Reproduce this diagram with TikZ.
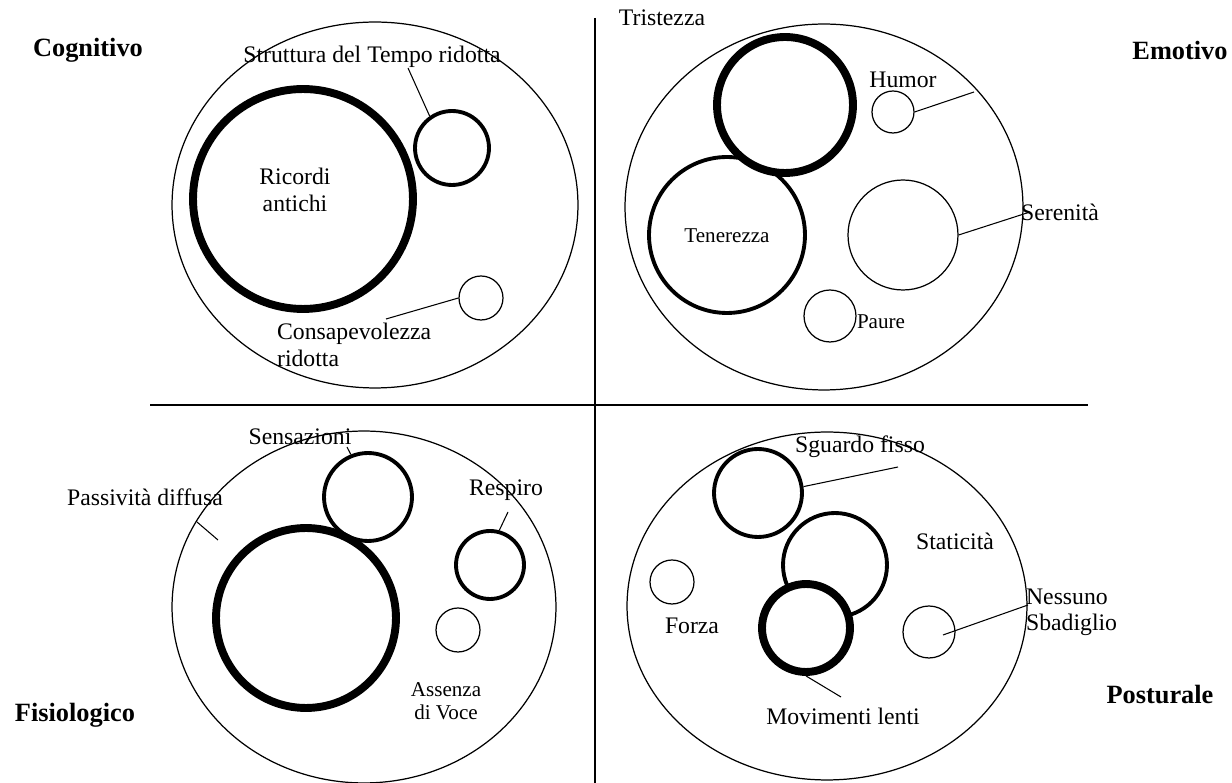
\documentclass[tikz,border=0pt]{standalone}
\usepackage{fontspec}
\setmainfont{Liberation Serif}
\usetikzlibrary{shapes.geometric}
\tikzset{
    areabox/.style={draw, ellipse, line width=0.7pt, inner sep=0pt},
    thinring/.style={draw, circle, fill=white, line width=0.7pt, inner sep=0pt},
    midring/.style={draw, circle, fill=white, line width=2.2pt, inner sep=0pt},
    boldring/.style={draw, circle, fill=white, line width=4.5pt, inner sep=0pt},
    lbl/.style={font=\fontsize{13.5}{15}\selectfont, inner sep=1pt, align=center},
    smalllbl/.style={font=\fontsize{12}{13}\selectfont, inner sep=1pt, align=center},
    arealbl/.style={font=\fontsize{15}{17}\selectfont\bfseries, inner sep=1pt},
    leader/.style={line width=0.6pt}
}

\begin{document}
\begin{tikzpicture}[x=0.02cm, y=-0.02cm]
\useasboundingbox (0,0) rectangle (1232,783);
% quadrants
\coordinate (vtop) at (595,18);
\coordinate (vbot) at (595,783);
\coordinate (hleft) at (150,405);
\coordinate (hright) at (1088,405);
\draw[line width=0.8pt] (vtop) -- (vbot);
\draw[line width=0.8pt] (hleft) -- (hright);

% cognitivo
\node[arealbl] (cogn) at (88,50) {Cognitivo};
\node[areabox, minimum width=8.12cm, minimum height=7.32cm] (cognarea) at (375,205) {};
\node[midring, minimum size=1.48cm] (tempo) at (452,148) {};
\node[boldring, minimum size=4.4cm] (ricordi) at (303,199) {};
\node[thinring, minimum size=0.88cm] (consap) at (481,298) {};
\node[lbl] (tempolbl) at (372,57) {Struttura del Tempo ridotta};
\node[lbl] (ricordilbl) at (295,190) {Ricordi\\antichi};
\node[lbl, align=left, anchor=west] (consaplbl) at (275,345) {Consapevolezza\\ridotta};
\coordinate (tempoend) at (408,68);
\coordinate (consapend) at (386,319);
\draw[leader] (tempo.125) -- (tempoend);
\draw[leader] (consap.west) -- (consapend);

% emotivo
\node[arealbl] (emot) at (1180,50) {Emotivo};
\node[areabox, minimum width=7.96cm, minimum height=7.32cm] (emotarea) at (824,207) {};
\node[midring, minimum size=3.12cm] (tenerezza) at (727,235) {};
\node[boldring, minimum size=2.72cm] (tristezza) at (785,105) {};
\node[thinring, minimum size=0.84cm] (humor) at (893,112) {};
\node[thinring, minimum size=2.2cm] (serenita) at (903,235) {};
\node[thinring, minimum size=1.04cm] (paure) at (830,316) {};
\node[lbl] (tristezzalbl) at (662,18) {Tristezza};
\node[lbl] (humorlbl) at (903,80) {Humor};
\node[lbl] (serenitalbl) at (1060,212) {Serenità};
\node[smalllbl] (tenerezzalbl) at (727,236) {Tenerezza};
\node[smalllbl] (paurelbl) at (881,322) {Paure};
\coordinate (humorend) at (974,92);
\coordinate (serenitaend) at (1030,212);
\draw[leader] (humor.east) -- (humorend);
\draw[leader] (serenita.east) -- (serenitaend);

% fisiologico
\node[arealbl] (fisio) at (75,715) {Fisiologico};
\node[areabox, minimum width=7.68cm, minimum height=7.04cm] (fisioarea) at (364,607) {};
\node[midring, minimum size=1.76cm] (sensazioni) at (368,497) {};
\node[boldring, minimum size=3.6cm] (passivita) at (306,618) {};
\node[midring, minimum size=1.36cm] (respiro) at (490,565) {};
\node[thinring, minimum size=0.88cm] (voce) at (458,630) {};
\node[lbl] (sensazionilbl) at (300,437) {Sensazioni};
\node[lbl] (passivitalbl) at (145,497) {Passività diffusa};
\node[lbl] (respirolbl) at (506,490) {Respiro};
\node[smalllbl] (vocelbl) at (446,701) {Assenza\\di Voce};
\coordinate (sensazioniend) at (347,447);
\coordinate (passivitastart) at (197,522);
\coordinate (passivitaend) at (218,540);
\coordinate (respiroend) at (508,512);
\draw[leader] (sensazioniend) -- (sensazioni.112);
\draw[leader] (passivitastart) -- (passivitaend);
\draw[leader] (respiroend) -- (respiro.75);

% posturale
\node[arealbl] (post) at (1160,695) {Posturale};
\node[areabox, minimum width=8.0cm, minimum height=6.96cm] (postarea) at (827,606) {};
\node[midring, minimum size=2.08cm] (staticita) at (835,565) {};
\node[midring, minimum size=1.76cm] (sguardo) at (758,493) {};
\node[boldring, minimum size=1.76cm] (movimenti) at (806,628) {};
\node[thinring, minimum size=0.88cm] (forza) at (672,582) {};
\node[thinring, minimum size=1.04cm] (nessuno) at (929,632) {};
\node[lbl] (sguardolbl) at (860,447) {Sguardo fisso};
\node[lbl] (staticitalbl) at (955,541) {Staticità};
\node[lbl] (forzalbl) at (692,626) {Forza};
\node[lbl, align=left, anchor=west] (nessunolbl) at (1024,612) {Nessuno\\Sbadiglio};
\node[lbl] (movimentilbl) at (843,716) {Movimenti lenti};
\coordinate (sguardoend) at (898,467);
\coordinate (nessunostart) at (943,635);
\coordinate (nessunoend) at (1028,605);
\coordinate (movimentiend) at (841,697);
\draw[leader] (sguardo.8) -- (sguardoend);
\draw[leader] (nessunostart) -- (nessunoend);
\draw[leader] (movimenti.south) -- (movimentiend);
\end{tikzpicture}
\end{document}
